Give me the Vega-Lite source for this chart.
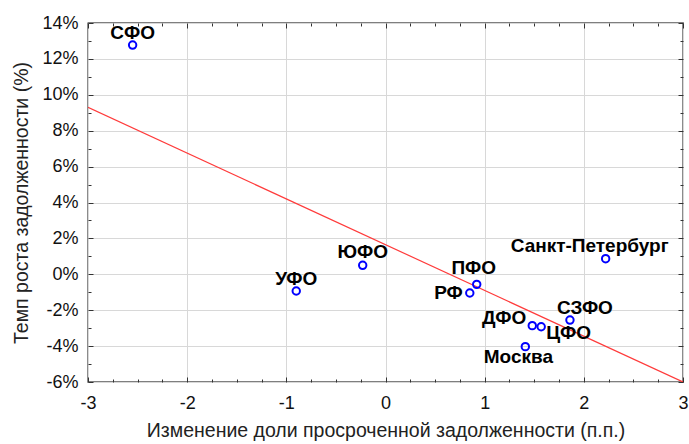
{
  "$schema": "https://vega.github.io/schema/vega-lite/v6.json",
  "width": 595,
  "height": 359,
  "autosize": "none",
  "padding": {"left": 88, "top": 23, "right": 6, "bottom": 62},
  "background": "white",
  "config": {
    "font": "Liberation Sans",
    "view": {"stroke": "#000000", "strokeWidth": 1.3},
    "axis": {"domain": false}
  },
  "datasets": {
    "regions": [
      {"name": "СФО", "x": -2.55, "y": 12.77},
      {"name": "УФО", "x": -0.9, "y": -0.93},
      {"name": "ЮФО", "x": -0.23, "y": 0.5},
      {"name": "ПФО", "x": 0.92, "y": -0.56},
      {"name": "РФ", "x": 0.85, "y": -1.04},
      {"name": "ДФО", "x": 1.48, "y": -2.86},
      {"name": "ЦФО", "x": 1.57, "y": -2.92},
      {"name": "СЗФО", "x": 1.86, "y": -2.55},
      {"name": "Москва", "x": 1.41, "y": -4.03},
      {"name": "Санкт-Петербург", "x": 2.22, "y": 0.87}
    ],
    "trend": [
      {"x": -3, "y": 9.3},
      {"x": 3, "y": -6.0}
    ]
  },
  "layer": [
    {
      "data": {"name": "trend"},
      "mark": {"type": "line", "color": "#ff3b3b", "strokeWidth": 1.2, "clip": true},
      "encoding": {
        "x": {
          "field": "x", "type": "quantitative",
          "scale": {"domain": [-3, 3], "nice": false, "zero": false},
          "axis": {
            "orient": "bottom",
            "values": [-3,-2.75,-2.5,-2.25,-2,-1.75,-1.5,-1.25,-1,-0.75,-0.5,-0.25,0,0.25,0.5,0.75,1,1.25,1.5,1.75,2,2.25,2.5,2.75,3],
            "labelExpr": "datum.value % 1 === 0 ? (datum.value + '') : ''",
            "labelFontSize": 18, "labelColor": "#111111", "labelPadding": 17,
            "labelFlush": false, "labelOverlap": false,
            "title": "Изменение доли просроченной задолженности (п.п.)",
            "titleFontSize": 19.5, "titleFontWeight": "normal", "titleColor": "#222222", "titlePadding": 7,
            "grid": true,
            "gridColor": "#d8d8d8",
            "gridOpacity": {"condition": {"test": "datum.value % 1 === 0", "value": 1}, "value": 0},
            "tickColor": "#333333",
            "tickSize": {"condition": {"test": "datum.value % 1 === 0", "value": -5}, "value": -3}
          }
        },
        "y": {
          "field": "y", "type": "quantitative",
          "scale": {"domain": [-6, 14], "nice": false, "zero": false},
          "axis": {
            "orient": "left",
            "values": [-6,-5,-4,-3,-2,-1,0,1,2,3,4,5,6,7,8,9,10,11,12,13,14],
            "labelExpr": "datum.value % 2 === 0 ? (datum.value + '%') : ''",
            "labelFontSize": 18, "labelColor": "#111111", "labelPadding": 15,
            "labelFlush": false, "labelOverlap": false,
            "title": "Темп роста задолженности (%)",
            "titleFontSize": 19.5, "titleFontWeight": "normal", "titleColor": "#222222", "titlePadding": 10,
            "grid": true,
            "gridColor": "#d8d8d8",
            "gridOpacity": {"condition": {"test": "datum.value % 2 === 0", "value": 1}, "value": 0},
            "tickColor": "#333333",
            "tickSize": {"condition": {"test": "datum.value % 2 === 0", "value": -5}, "value": -3}
          }
        }
      }
    },
    {
      "data": {"name": "regions"},
      "mark": {"type": "point", "shape": "circle", "filled": false, "color": "#0000ff", "strokeWidth": 2, "size": 55, "opacity": 1},
      "encoding": {
        "x": {
          "field": "x", "type": "quantitative",
          "axis": {
            "orient": "top", "labels": false, "title": null, "grid": false,
            "values": [-3,-2.75,-2.5,-2.25,-2,-1.75,-1.5,-1.25,-1,-0.75,-0.5,-0.25,0,0.25,0.5,0.75,1,1.25,1.5,1.75,2,2.25,2.5,2.75,3],
            "tickColor": "#333333",
            "tickSize": {"condition": {"test": "datum.value % 1 === 0", "value": -5}, "value": -3}
          }
        },
        "y": {
          "field": "y", "type": "quantitative",
          "axis": {
            "orient": "right", "labels": false, "title": null, "grid": false,
            "values": [-6,-5,-4,-3,-2,-1,0,1,2,3,4,5,6,7,8,9,10,11,12,13,14],
            "tickColor": "#333333",
            "tickSize": {"condition": {"test": "datum.value % 2 === 0", "value": -5}, "value": -3}
          }
        }
      }
    },
    {
      "data": {"name": "regions"},
      "transform": [{"filter": "indexof(['СФО','УФО'], datum.name) >= 0"}],
      "mark": {"type": "text", "fontSize": 19, "fontWeight": "bold", "color": "#000000", "align": "center", "baseline": "middle", "dy": -12},
      "encoding": {"x": {"field": "x", "type": "quantitative", "axis": null}, "y": {"field": "y", "type": "quantitative", "axis": null}, "text": {"field": "name"}}
    },
    {
      "data": {"name": "regions"},
      "transform": [{"filter": "datum.name === 'ЮФО'"}],
      "mark": {"type": "text", "fontSize": 19, "fontWeight": "bold", "color": "#000000", "align": "center", "baseline": "middle", "dy": -13},
      "encoding": {"x": {"field": "x", "type": "quantitative", "axis": null}, "y": {"field": "y", "type": "quantitative", "axis": null}, "text": {"field": "name"}}
    },
    {
      "data": {"name": "regions"},
      "transform": [{"filter": "datum.name === 'ПФО'"}],
      "mark": {"type": "text", "fontSize": 19, "fontWeight": "bold", "color": "#000000", "align": "center", "baseline": "middle", "dx": -3, "dy": -16},
      "encoding": {"x": {"field": "x", "type": "quantitative", "axis": null}, "y": {"field": "y", "type": "quantitative", "axis": null}, "text": {"field": "name"}}
    },
    {
      "data": {"name": "regions"},
      "transform": [{"filter": "datum.name === 'РФ'"}],
      "mark": {"type": "text", "fontSize": 19, "fontWeight": "bold", "color": "#000000", "align": "right", "baseline": "middle", "dx": -7, "dy": 0},
      "encoding": {"x": {"field": "x", "type": "quantitative", "axis": null}, "y": {"field": "y", "type": "quantitative", "axis": null}, "text": {"field": "name"}}
    },
    {
      "data": {"name": "regions"},
      "transform": [{"filter": "datum.name === 'ДФО'"}],
      "mark": {"type": "text", "fontSize": 19, "fontWeight": "bold", "color": "#000000", "align": "right", "baseline": "middle", "dx": -6, "dy": -8},
      "encoding": {"x": {"field": "x", "type": "quantitative", "axis": null}, "y": {"field": "y", "type": "quantitative", "axis": null}, "text": {"field": "name"}}
    },
    {
      "data": {"name": "regions"},
      "transform": [{"filter": "datum.name === 'ЦФО'"}],
      "mark": {"type": "text", "fontSize": 19, "fontWeight": "bold", "color": "#000000", "align": "left", "baseline": "middle", "dx": 5, "dy": 6},
      "encoding": {"x": {"field": "x", "type": "quantitative", "axis": null}, "y": {"field": "y", "type": "quantitative", "axis": null}, "text": {"field": "name"}}
    },
    {
      "data": {"name": "regions"},
      "transform": [{"filter": "datum.name === 'СЗФО'"}],
      "mark": {"type": "text", "fontSize": 19, "fontWeight": "bold", "color": "#000000", "align": "center", "baseline": "middle", "dx": 15, "dy": -12},
      "encoding": {"x": {"field": "x", "type": "quantitative", "axis": null}, "y": {"field": "y", "type": "quantitative", "axis": null}, "text": {"field": "name"}}
    },
    {
      "data": {"name": "regions"},
      "transform": [{"filter": "datum.name === 'Москва'"}],
      "mark": {"type": "text", "fontSize": 19, "fontWeight": "bold", "color": "#000000", "align": "center", "baseline": "middle", "dx": -7, "dy": 10},
      "encoding": {"x": {"field": "x", "type": "quantitative", "axis": null}, "y": {"field": "y", "type": "quantitative", "axis": null}, "text": {"field": "name"}}
    },
    {
      "data": {"name": "regions"},
      "transform": [{"filter": "datum.name === 'Санкт-Петербург'"}],
      "mark": {"type": "text", "fontSize": 19, "fontWeight": "bold", "color": "#000000", "align": "center", "baseline": "middle", "dx": -16, "dy": -13},
      "encoding": {"x": {"field": "x", "type": "quantitative", "axis": null}, "y": {"field": "y", "type": "quantitative", "axis": null}, "text": {"field": "name"}}
    }
  ],
  "resolve": {"axis": {"x": "independent", "y": "independent"}}
}
